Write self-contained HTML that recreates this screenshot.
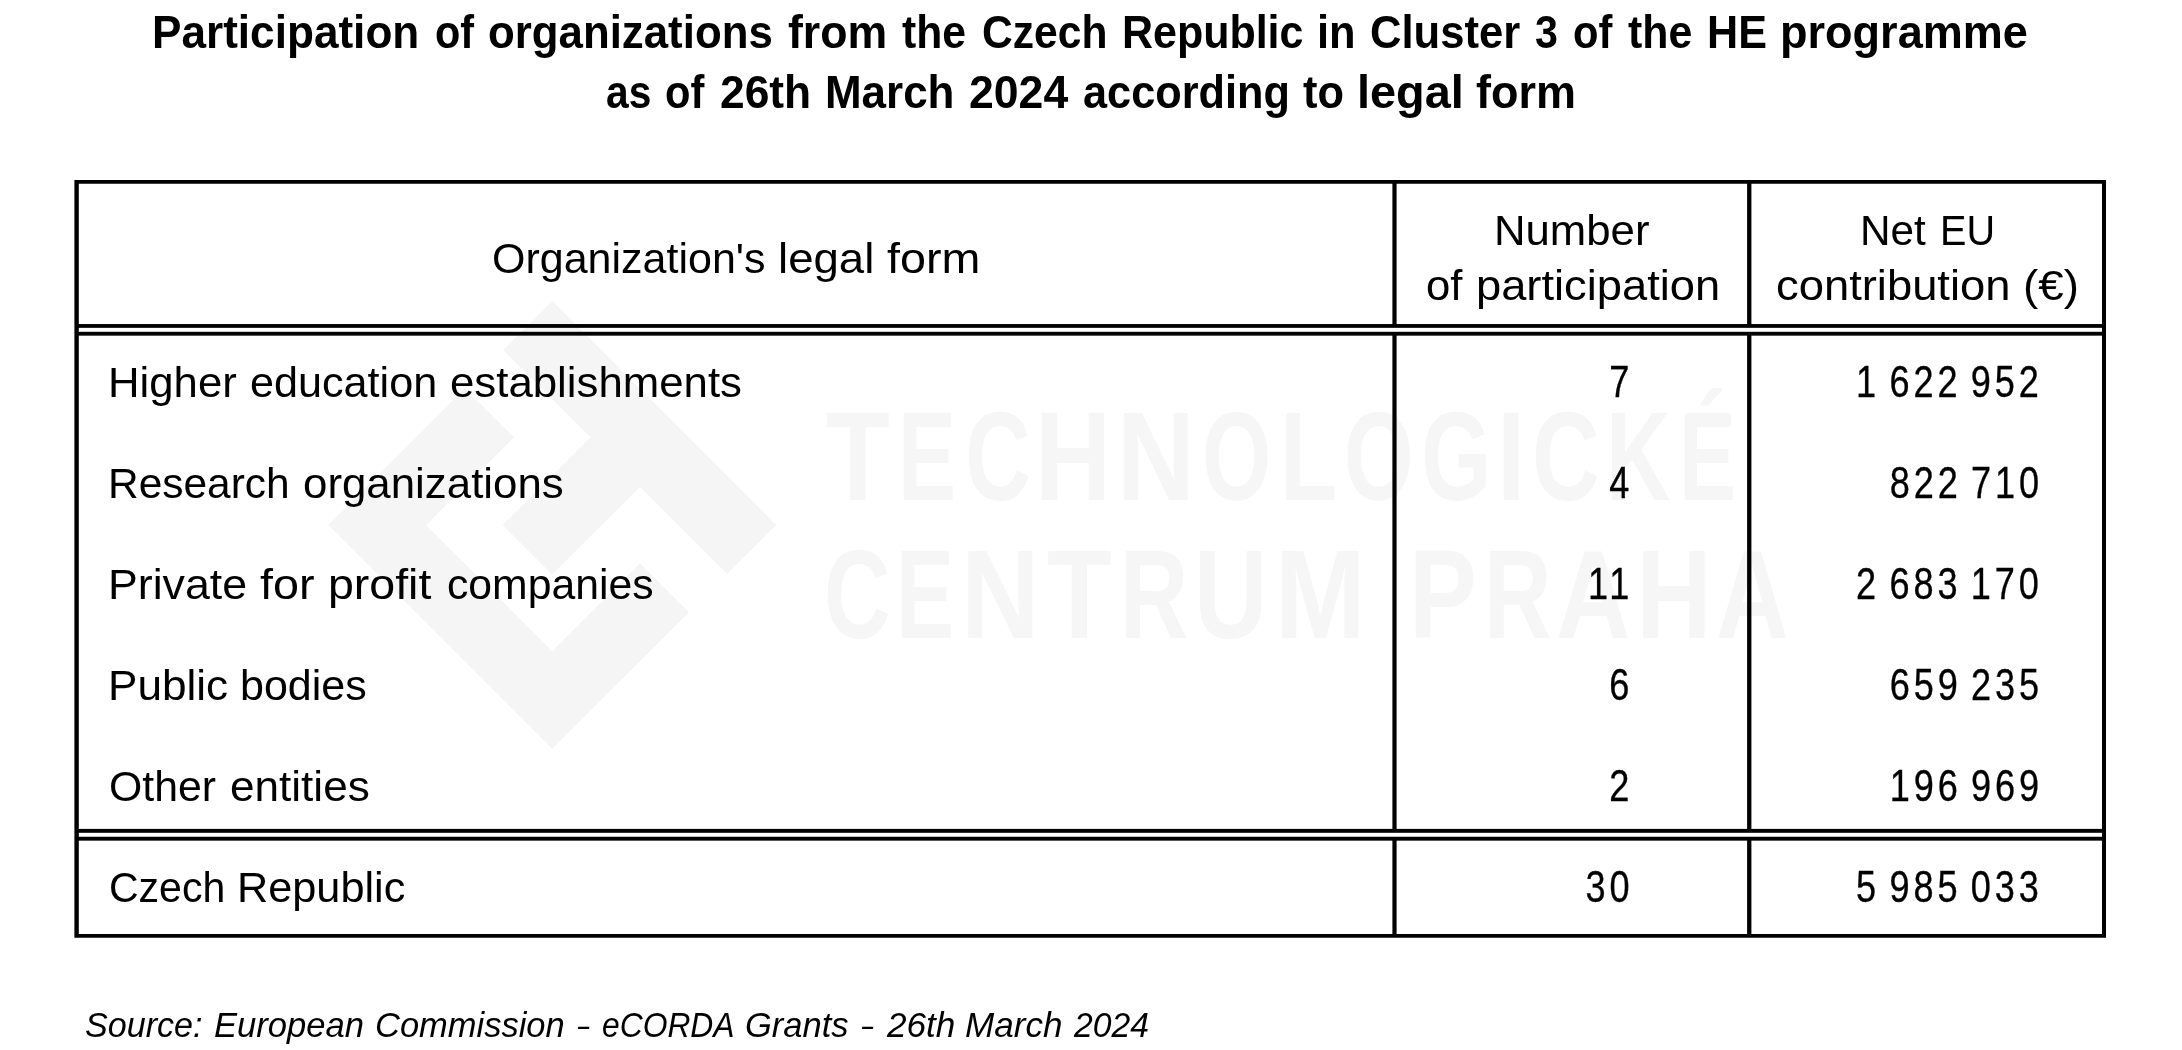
<!DOCTYPE html>
<html lang="en"><head><meta charset="utf-8"><title>Participation of organizations from the Czech Republic in Cluster 3 of the HE programme</title>
<style>
html,body{margin:0;padding:0;background:#fff;}
body{width:2182px;height:1050px;position:relative;overflow:hidden;font-family:"Liberation Sans",sans-serif;color:#000;}
#sheet{position:absolute;left:0;top:0;width:2182px;height:1050px;will-change:transform;}
.t{position:absolute;white-space:pre;line-height:1;transform-origin:0 0;display:block;}
.n{position:absolute;white-space:pre;line-height:1;font-size:44px;letter-spacing:4.8px;word-spacing:-5.57px;transform-origin:100% 0;transform:scaleX(.82);-webkit-text-stroke:.35px #000;}
svg{position:absolute;left:0;top:0;}
</style></head><body><div id="sheet">
<svg width="2182" height="1050" viewBox="0 0 2182 1050"><g fill="#f5f5f5"><polygon points="552.2,301.0 776.2,525.0 727.2,574.0 640.0,486.8 552.2,574.5 502.7,525.0 590.5,437.2 503.2,350.0"/><polygon points="328.2,525.0 465.0,388.2 514.0,437.2 426.2,525.0 552.2,651.0 640.0,563.2 689.0,612.2 552.2,749.0"/></g></svg>
<div id="wm">
<span class="t" style="left:825.88px;top:393px;font-size:126.5px;transform:scaleX(0.8240);font-weight:700;color:#f6f6f6;">T</span>
<span class="t" style="left:898.40px;top:393px;font-size:126.5px;transform:scaleX(0.6875);font-weight:700;color:#f6f6f6;">E</span>
<span class="t" style="left:964.69px;top:393px;font-size:126.5px;transform:scaleX(0.7217);font-weight:700;color:#f6f6f6;">C</span>
<span class="t" style="left:1034.74px;top:393px;font-size:126.5px;transform:scaleX(0.8320);font-weight:700;color:#f6f6f6;">H</span>
<span class="t" style="left:1117.09px;top:393px;font-size:126.5px;transform:scaleX(0.8507);font-weight:700;color:#f6f6f6;">N</span>
<span class="t" style="left:1202.08px;top:393px;font-size:126.5px;transform:scaleX(0.7034);font-weight:700;color:#f6f6f6;">O</span>
<span class="t" style="left:1279.88px;top:393px;font-size:126.5px;transform:scaleX(0.7394);font-weight:700;color:#f6f6f6;">L</span>
<span class="t" style="left:1343.57px;top:393px;font-size:126.5px;transform:scaleX(0.7067);font-weight:700;color:#f6f6f6;">O</span>
<span class="t" style="left:1420.73px;top:393px;font-size:126.5px;transform:scaleX(0.7140);font-weight:700;color:#f6f6f6;">G</span>
<span class="t" style="left:1497.00px;top:393px;font-size:126.5px;transform:scaleX(0.8000);font-weight:700;color:#f6f6f6;">I</span>
<span class="t" style="left:1532.00px;top:393px;font-size:126.5px;transform:scaleX(0.7398);font-weight:700;color:#f6f6f6;">C</span>
<span class="t" style="left:1605.75px;top:393px;font-size:126.5px;transform:scaleX(0.7060);font-weight:700;color:#f6f6f6;">K</span>
<span class="t" style="left:1678.90px;top:393px;font-size:126.5px;transform:scaleX(0.6750);font-weight:700;color:#f6f6f6;">É</span>
<span class="t" style="left:823.86px;top:531px;font-size:126.5px;transform:scaleX(0.7289);font-weight:700;color:#f6f6f6;">C</span>
<span class="t" style="left:895.70px;top:531px;font-size:126.5px;transform:scaleX(0.6875);font-weight:700;color:#f6f6f6;">E</span>
<span class="t" style="left:961.41px;top:531px;font-size:126.5px;transform:scaleX(0.8613);font-weight:700;color:#f6f6f6;">N</span>
<span class="t" style="left:1047.16px;top:531px;font-size:126.5px;transform:scaleX(0.8360);font-weight:700;color:#f6f6f6;">T</span>
<span class="t" style="left:1119.82px;top:531px;font-size:126.5px;transform:scaleX(0.7469);font-weight:700;color:#f6f6f6;">R</span>
<span class="t" style="left:1194.37px;top:531px;font-size:126.5px;transform:scaleX(0.8039);font-weight:700;color:#f6f6f6;">U</span>
<span class="t" style="left:1274.82px;top:531px;font-size:126.5px;transform:scaleX(0.8596);font-weight:700;color:#f6f6f6;">M</span>
<span class="t" style="left:1409.28px;top:531px;font-size:126.5px;transform:scaleX(0.8027);font-weight:700;color:#f6f6f6;">P</span>
<span class="t" style="left:1484.07px;top:531px;font-size:126.5px;transform:scaleX(0.7407);font-weight:700;color:#f6f6f6;">R</span>
<span class="t" style="left:1556.16px;top:531px;font-size:126.5px;transform:scaleX(0.8140);font-weight:700;color:#f6f6f6;">A</span>
<span class="t" style="left:1635.69px;top:531px;font-size:126.5px;transform:scaleX(0.8267);font-weight:700;color:#f6f6f6;">H</span>
<span class="t" style="left:1716.21px;top:531px;font-size:126.5px;transform:scaleX(0.7965);font-weight:700;color:#f6f6f6;">A</span>
</div>
<svg width="2182" height="1050" viewBox="0 0 2182 1050"><g fill="#000"><path fill-rule="evenodd" d="M74.4 179.95H2106V937.75H74.4Z M78.8 183.8V934H2102V183.8Z"/><rect x="76" y="324.05" width="2028" height="3.8"/><rect x="76" y="331.8" width="2028" height="3.85"/><rect x="76" y="828.9" width="2028" height="3.9"/><rect x="76" y="836.75" width="2028" height="3.9"/><rect x="1392.4" y="182" width="4.2" height="144"/><rect x="1392.4" y="333" width="4.2" height="498"/><rect x="1392.4" y="838" width="4.2" height="98"/><rect x="1747.1" y="182" width="4.3" height="144"/><rect x="1747.1" y="333" width="4.3" height="498"/><rect x="1747.1" y="838" width="4.3" height="98"/></g></svg>
<div id="txt">
<span class="t" style="left:152.02px;top:9px;font-size:46px;transform:scaleX(0.9594);font-weight:700;">Participation</span>
<span class="t" style="left:434.70px;top:9px;font-size:46px;transform:scaleX(0.9003);font-weight:700;">of</span>
<span class="t" style="left:488.35px;top:9px;font-size:46px;transform:scaleX(0.9523);font-weight:700;">organizations</span>
<span class="t" style="left:787.70px;top:9px;font-size:46px;transform:scaleX(0.9709);font-weight:700;">from</span>
<span class="t" style="left:902.40px;top:9px;font-size:46px;transform:scaleX(0.9281);font-weight:700;">the</span>
<span class="t" style="left:982.17px;top:9px;font-size:46px;transform:scaleX(0.9261);font-weight:700;">Czech</span>
<span class="t" style="left:1121.90px;top:9px;font-size:46px;transform:scaleX(0.9341);font-weight:700;">Republic</span>
<span class="t" style="left:1316.67px;top:9px;font-size:46px;transform:scaleX(0.9447);font-weight:700;">in</span>
<span class="t" style="left:1369.65px;top:9px;font-size:46px;transform:scaleX(0.9481);font-weight:700;">Cluster</span>
<span class="t" style="left:1535.10px;top:9px;font-size:46px;transform:scaleX(0.8957);font-weight:700;">3</span>
<span class="t" style="left:1572.90px;top:9px;font-size:46px;transform:scaleX(0.9049);font-weight:700;">of</span>
<span class="t" style="left:1628.10px;top:9px;font-size:46px;transform:scaleX(0.9311);font-weight:700;">the</span>
<span class="t" style="left:1707.19px;top:9px;font-size:46px;transform:scaleX(0.9372);font-weight:700;">HE</span>
<span class="t" style="left:1779.56px;top:9px;font-size:46px;transform:scaleX(0.9796);font-weight:700;">programme</span>
<span class="t" style="left:605.81px;top:69px;font-size:46px;transform:scaleX(0.8851);font-weight:700;">as</span>
<span class="t" style="left:665.30px;top:69px;font-size:46px;transform:scaleX(0.9049);font-weight:700;">of</span>
<span class="t" style="left:720.24px;top:69px;font-size:46px;transform:scaleX(0.9641);font-weight:700;">26th</span>
<span class="t" style="left:825.33px;top:69px;font-size:46px;transform:scaleX(0.9556);font-weight:700;">March</span>
<span class="t" style="left:968.83px;top:69px;font-size:46px;transform:scaleX(0.9691);font-weight:700;">2024</span>
<span class="t" style="left:1082.96px;top:69px;font-size:46px;transform:scaleX(0.9413);font-weight:700;">according</span>
<span class="t" style="left:1303.40px;top:69px;font-size:46px;transform:scaleX(0.9429);font-weight:700;">to</span>
<span class="t" style="left:1357.24px;top:69px;font-size:46px;transform:scaleX(1.0187);font-weight:700;">legal</span>
<span class="t" style="left:1476.40px;top:69px;font-size:46px;transform:scaleX(0.9779);font-weight:700;">form</span>
<span class="t" style="left:492.38px;top:238px;font-size:42.5px;transform:scaleX(1.0120);">Organization's</span>
<span class="t" style="left:778.15px;top:238px;font-size:42.5px;transform:scaleX(1.0732);">legal</span>
<span class="t" style="left:887.00px;top:238px;font-size:42.5px;transform:scaleX(1.0981);">form</span>
<span class="t" style="left:1494.21px;top:210px;font-size:42.5px;transform:scaleX(1.0283);">Number</span>
<span class="t" style="left:1426.27px;top:265px;font-size:42.5px;transform:scaleX(1.0278);">of</span>
<span class="t" style="left:1475.97px;top:265px;font-size:42.5px;transform:scaleX(1.0653);">participation</span>
<span class="t" style="left:1859.82px;top:210px;font-size:42.5px;transform:scaleX(0.9948);">Net</span>
<span class="t" style="left:1940.21px;top:210px;font-size:42.5px;transform:scaleX(0.9316);">EU</span>
<span class="t" style="left:1775.83px;top:265px;font-size:42.5px;transform:scaleX(1.0672);">contribution</span>
<span class="t" style="left:2022.54px;top:265px;font-size:42.5px;transform:scaleX(1.0776);">(€)</span>
<span class="t" style="left:107.82px;top:362px;font-size:42.5px;transform:scaleX(1.0283);">Higher</span>
<span class="t" style="left:250.28px;top:362px;font-size:42.5px;transform:scaleX(1.0156);">education</span>
<span class="t" style="left:449.97px;top:362px;font-size:42.5px;transform:scaleX(1.0301);">establishments</span>
<span class="t" style="left:107.90px;top:463px;font-size:42.5px;transform:scaleX(0.9986);">Research</span>
<span class="t" style="left:302.57px;top:463px;font-size:42.5px;transform:scaleX(1.0313);">organizations</span>
<span class="t" style="left:107.75px;top:564px;font-size:42.5px;transform:scaleX(1.0514);">Private</span>
<span class="t" style="left:260.00px;top:564px;font-size:42.5px;transform:scaleX(1.0982);">for</span>
<span class="t" style="left:327.81px;top:564px;font-size:42.5px;transform:scaleX(1.0941);">profit</span>
<span class="t" style="left:446.99px;top:564px;font-size:42.5px;transform:scaleX(1.0050);">companies</span>
<span class="t" style="left:107.79px;top:665px;font-size:42.5px;transform:scaleX(1.0382);">Public</span>
<span class="t" style="left:240.28px;top:665px;font-size:42.5px;transform:scaleX(1.0116);">bodies</span>
<span class="t" style="left:108.89px;top:766px;font-size:42.5px;transform:scaleX(1.0064);">Other</span>
<span class="t" style="left:229.56px;top:766px;font-size:42.5px;transform:scaleX(1.0377);">entities</span>
<span class="t" style="left:108.67px;top:867px;font-size:42.5px;transform:scaleX(0.9644);">Czech</span>
<span class="t" style="left:237.05px;top:867px;font-size:42.5px;transform:scaleX(1.0178);">Republic</span>
<span class="t" style="left:84.90px;top:1008px;font-size:34.5px;transform:scaleX(0.9881);font-style:italic;">Source:</span>
<span class="t" style="left:213.50px;top:1008px;font-size:34.5px;transform:scaleX(1.0031);font-style:italic;">European</span>
<span class="t" style="left:375.20px;top:1008px;font-size:34.5px;transform:scaleX(0.9995);font-style:italic;">Commission</span>
<span class="t" style="left:577.89px;top:1008px;font-size:34.5px;transform:scaleX(0.5857);font-style:italic;">–</span>
<span class="t" style="left:601.68px;top:1008px;font-size:34.5px;transform:scaleX(0.9219);font-style:italic;">eCORDA</span>
<span class="t" style="left:745.10px;top:1008px;font-size:34.5px;transform:scaleX(1.0002);font-style:italic;">Grants</span>
<span class="t" style="left:862.38px;top:1008px;font-size:34.5px;transform:scaleX(0.5810);font-style:italic;">–</span>
<span class="t" style="left:887.22px;top:1008px;font-size:34.5px;transform:scaleX(1.0185);font-style:italic;">26th</span>
<span class="t" style="left:965.38px;top:1008px;font-size:34.5px;transform:scaleX(1.0164);font-style:italic;">March</span>
<span class="t" style="left:1073.88px;top:1008px;font-size:34.5px;transform:scaleX(0.9770);font-style:italic;">2024</span>
<span class="n" style="right:548.70px;top:360px;">7</span>
<span class="n" style="right:548.70px;top:461px;">4</span>
<span class="n" style="right:548.70px;top:562px;">11</span>
<span class="n" style="right:548.70px;top:663px;">6</span>
<span class="n" style="right:548.70px;top:764px;">2</span>
<span class="n" style="right:548.70px;top:865px;">30</span>
<span class="n" style="right:139.30px;top:360px;">1 622 952</span>
<span class="n" style="right:139.30px;top:461px;">822 710</span>
<span class="n" style="right:139.30px;top:562px;">2 683 170</span>
<span class="n" style="right:139.30px;top:663px;">659 235</span>
<span class="n" style="right:139.30px;top:764px;">196 969</span>
<span class="n" style="right:139.30px;top:865px;">5 985 033</span>
</div>
</div></body></html>
